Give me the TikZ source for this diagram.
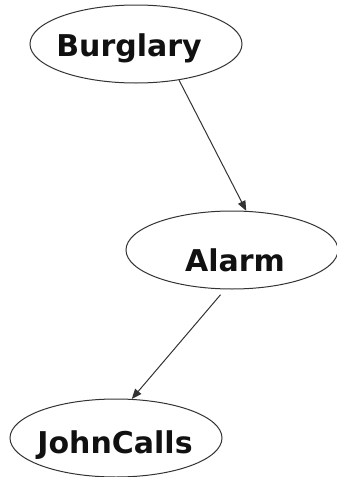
\documentclass[tikz,border=0pt]{standalone}
\usepackage{tikz}
\usetikzlibrary{shapes.geometric, arrows.meta}
\usepackage{fontspec}
\setmainfont{DejaVu Sans}
\usepackage{xcolor}
\definecolor{bnline}{HTML}{333333}
\definecolor{bntext}{HTML}{111111}

\begin{document}
\begin{tikzpicture}[x=1pt, y=-1pt,
    bnnode/.style={draw=bnline, ellipse, line width=1pt, inner sep=0pt,
                   minimum width=212pt, minimum height=78pt},
    bnlabel/.style={text=bntext, font=\fontsize{30}{32}\selectfont\bfseries},
    bnedge/.style={draw=bnline, line width=1pt, -{Triangle[length=10pt, width=8pt]}}]
  \useasboundingbox (0,0) rectangle (337,477);
  \node[bnnode] (burglary) at (136,44) {};
  \node[bnlabel] (burglarytext) at (129,48) {Burglary};
  \node[bnnode] (alarm) at (232,250) {};
  \node[bnlabel] (alarmtext) at (235,260) {Alarm};
  \node[bnnode] (johncalls) at (116,438) {};
  \node[bnlabel] (johncallstext) at (115,445) {JohnCalls};
  \draw[bnedge] (burglary.-40) -- (alarm.70);
  \draw[bnedge, shorten <=7pt] (alarm.-100) -- (johncalls.68);
\end{tikzpicture}
\end{document}
